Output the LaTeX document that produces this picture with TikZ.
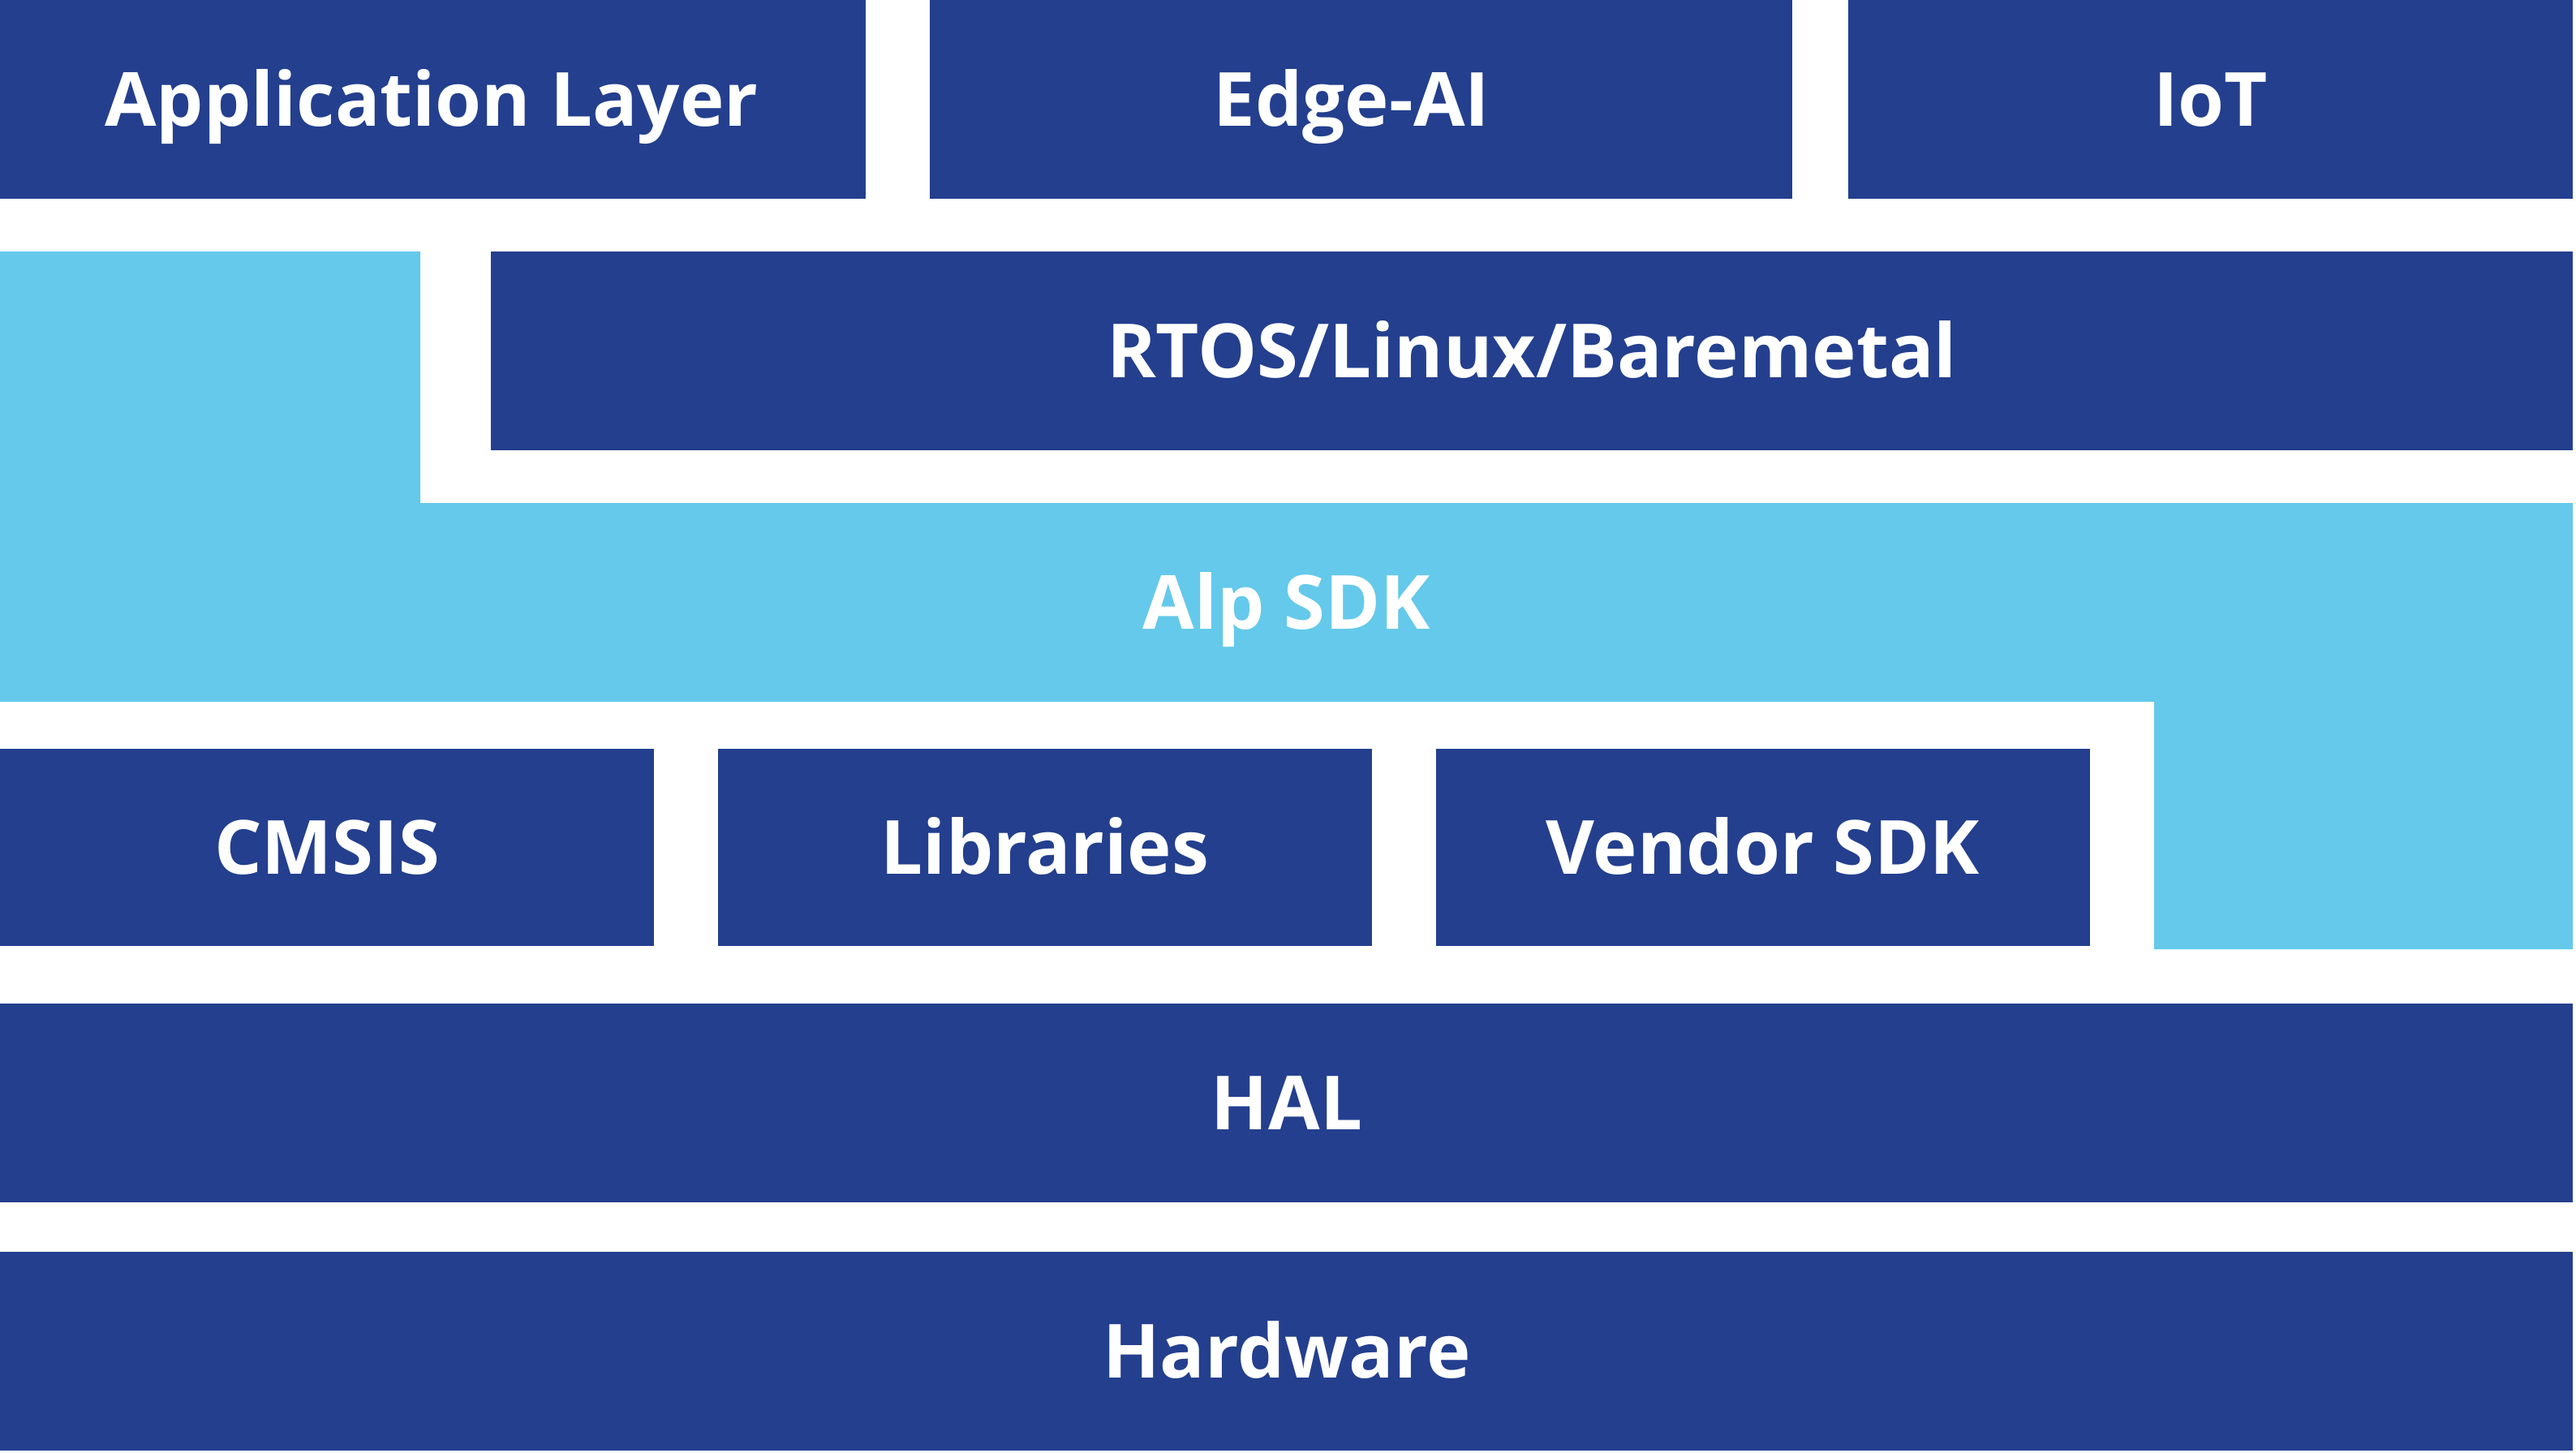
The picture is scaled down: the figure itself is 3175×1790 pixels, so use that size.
\documentclass[tikz,border=0pt]{standalone}
\usepackage{fontspec}
\setmainfont{Open Sans}
\definecolor{navy}{HTML}{233F8E}
\definecolor{sky}{HTML}{64C9EA}
\begin{document}
\begin{tikzpicture}[x=0.01cm,y=-0.01cm,
  lbl/.style={text=white,font=\fontsize{26.2pt}{30pt}\selectfont\bfseries,inner sep=0pt,text height=0.66cm,text depth=0pt},
  box/.style={fill=navy,draw=none}]
\useasboundingbox (0,0) rectangle (3175,1790);
% light blue Alp SDK shape
\fill[sky] (0,310) -- (518,310) -- (518,620) -- (3171,620) -- (3171,1170) -- (2655,1170) -- (2655,865) -- (0,865) -- cycle;
% boxes
\fill[box] (0,0) rectangle (1067,245);
\fill[box] (1146,0) rectangle (2209,245);
\fill[box] (2278,0) rectangle (3171,245);
\fill[box] (605,310) rectangle (3171,555);
\fill[box] (0,923) rectangle (806,1166);
\fill[box] (885,923) rectangle (1691,1166);
\fill[box] (1770,923) rectangle (2576,1166);
\fill[box] (0,1237) rectangle (3171,1482);
\fill[box] (0,1543) rectangle (3171,1788);
% labels
\node[lbl] (app) at (532,122.5) {Application Layer};
\node[lbl] (edge) at (1666,122.5) {Edge-AI};
\node[lbl] (iot) at (2724.5,122.5) {IoT};
\node[lbl] (rtos) at (1888,432.5) {RTOS/Linux/Baremetal};
\node[lbl] (alp) at (1586,742.5) {Alp SDK};
\node[lbl] (cmsis) at (403,1044.5) {CMSIS};
\node[lbl] (libs) at (1288,1044.5) {Libraries};
\node[lbl] (vendor) at (2173,1044.5) {Vendor SDK};
\node[lbl] (hal) at (1586,1359.5) {HAL};
\node[lbl] (hw) at (1586,1665.5) {Hardware};
\end{tikzpicture}
\end{document}
